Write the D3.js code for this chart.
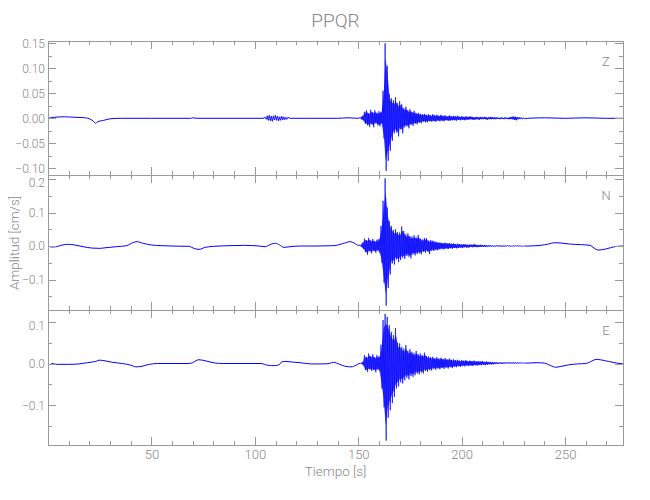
<!DOCTYPE html>
<html><head><meta charset="utf-8">
<script src="https://cdn.jsdelivr.net/npm/d3@7"></script>
<style>
body{margin:0;background:#fff;}
svg text{font-family:"Liberation Sans Narrow","Roboto",sans-serif;font-weight:300;fill:#888;}
</style></head><body>
<svg id="chart" width="650" height="500"></svg>
<script>
// ---------------- data ----------------
const stationName = "PPQR";
const componentNames = ["Z", "N", "E"];
const xLabel = "Tiempo [s]";
const yLabel = "Amplitud [cm/s]";

const timeRange = [0, 278];
const xMajorTicks = [50, 100, 150, 200, 250];
const xMinorTicks = [10,20,30,40,60,70,80,90,110,120,130,140,160,170,180,190,210,220,230,240,260,270];

const zRange = [-0.1134, 0.1546];
const nRange = [-0.191, 0.212];
const eRange = [-0.1954, 0.1283];
const zMajorTicks = [-0.10, -0.05, 0, 0.05, 0.10, 0.15];
const zMinorTicks = [-0.075, -0.025, 0.025, 0.075, 0.125];
const nMajorTicks = [-0.1, 0, 0.1, 0.2];
const nMinorTicks = [-0.15, -0.05, 0.05, 0.15];
const eMajorTicks = [-0.1, 0, 0.1];
const eMinorTicks = [-0.15, -0.05, 0.05];

// slow background trace (seconds, cm/s), outside the burst window
const zBaseTime = [0,3,8,13,18,20,22,23,24,27,30,35,50,69,70,72,90,104,
  105,105.5,106,106.5,107,107.5,108,108.5,109,109.5,110,110.5,111,111.5,112,112.5,113,113.5,114,114.5,115,115.5,116,117,
  125,140,145,150, 232,240,250,260,270,278];
const zBaseValue = [0,0.002,0.003,0.002,0.001,-0.001,-0.006,-0.010,-0.007,-0.004,-0.001,0,0,0,0.001,0,0,0,
  0.002,-0.002,0.005,-0.004,0.006,-0.005,0.004,-0.006,0.005,-0.003,0.006,-0.004,0.004,-0.005,0.003,-0.004,0.004,-0.003,0.003,-0.003,0.002,-0.002,0.002,0,
  0,0,0.001,0, 0,0.001,0,0.001,0,0];

const nBaseTime = [0,2,4,7,10,13,17,21,25,28,33,38,41,43,46,50,55,60,68,71,73,76,80,88,95,102,105,108,110,112,114,117,122,130,138,143,146,148,150,
  232,238,242,245,248,252,258,262,264,266,268,272,275,278];
const nBaseValue = [0,-0.003,-0.002,0.003,0.005,0.003,-0.002,-0.006,-0.007,-0.005,-0.002,0.001,0.010,0.013,0.008,0.003,0.001,0,-0.001,-0.008,-0.010,-0.004,-0.001,0.001,0.002,0,-0.002,0.006,0.008,0.003,-0.004,-0.002,0,0,0.001,0.008,0.013,0.009,0.002,
  0,0.002,0.006,0.010,0.009,0.006,0.004,0.002,-0.006,-0.012,-0.011,-0.005,-0.001,0];

const eBaseTime = [0,1,2,4,10,15,19,23,25,28,31,36,40,42.5,45,49,53,68,70,72,73,76.5,81,85,103,106,108,110,112,113,115,119,122,127,133,136,138,141,144,146.5,149,150,
  232,236,240,243,245.5,248,252,256,260,263,265,267,271,275,278];
const eBaseValue = [0.001,-0.003,0,-0.002,-0.002,-0.001,0.002,0.005,0.008,0.006,0.003,0,-0.004,-0.008,-0.007,-0.002,0,0,0.002,0.008,0.009,0.006,0.001,0,0,-0.004,-0.005,-0.005,-0.002,0.004,0.005,0.003,0.002,-0.001,-0.001,0,0.003,-0.002,-0.007,-0.008,-0.004,-0.001,
  0.001,0.002,0.001,-0.005,-0.009,-0.007,-0.003,-0.001,0,0.006,0.010,0.009,0.005,0.001,-0.001];

// burst window: samples every 0.5 s starting at 151 s (peak, trough per second)
const burstStart = 151;
const burstStep = 0.5;
const zBurst = [
  0.002,-0.002, 0.005,-0.004, 0.013,-0.011, 0.016,-0.014, 0.010,-0.017,
  0.017,-0.012, 0.012,-0.018, 0.016,-0.010, 0.011,-0.014, 0.014,-0.016,
  0.013,-0.011, 0.055,-0.040, 0.150,-0.105, 0.105,-0.085, 0.048,-0.065,
  0.040,-0.045, 0.036,-0.030, 0.042,-0.028, 0.030,-0.036, 0.034,-0.022,
  0.028,-0.030, 0.020,-0.018, 0.023,-0.016, 0.016,-0.020, 0.018,-0.013,
  0.013,-0.015, 0.015,-0.011, 0.010,-0.012, 0.011,-0.009, 0.009,-0.010,
  0.008,-0.007, 0.009,-0.008, 0.007,-0.008, 0.008,-0.006, 0.006,-0.007,
  0.008,-0.006, 0.006,-0.007, 0.007,-0.005, 0.005,-0.006, 0.007,-0.005,
  0.005,-0.006, 0.006,-0.004, 0.004,-0.005, 0.006,-0.005, 0.004,-0.004,
  0.005,-0.004, 0.004,-0.005, 0.005,-0.003, 0.003,-0.004, 0.004,-0.003,
  0.003,-0.004, 0.004,-0.003, 0.003,-0.003, 0.004,-0.002, 0.003,-0.003,
  0.002,-0.003, 0.003,-0.002, 0.002,-0.003, 0.003,-0.002, 0.002,-0.002,
  0.003,-0.002, 0.002,-0.003, 0.002,-0.002, 0.003,-0.002, 0.002,-0.002,
  0.002,-0.002, 0.002,-0.001, 0.001,-0.002, 0.002,-0.001, 0.001,-0.002,
  0.002,-0.001, 0.001,-0.002, 0.002,-0.002, 0.003,-0.002, 0.004,-0.003,
  0.003,-0.004, 0.002,-0.002, 0.002,-0.001, 0.001,-0.001, 0.001,-0.001
];
const nBurst = [
  0.003,-0.002, 0.010,-0.008, 0.022,-0.018, 0.018,-0.026, 0.024,-0.016,
  0.017,-0.022, 0.021,-0.015, 0.015,-0.020, 0.019,-0.014, 0.022,-0.021,
  0.060,-0.050, 0.135,-0.110, 0.202,-0.178, 0.115,-0.125, 0.075,-0.085,
  0.060,-0.052, 0.048,-0.055, 0.050,-0.040, 0.042,-0.048, 0.040,-0.042,
  0.058,-0.035, 0.045,-0.038, 0.035,-0.030, 0.038,-0.032, 0.030,-0.037,
  0.028,-0.025, 0.032,-0.028, 0.026,-0.024, 0.033,-0.022, 0.022,-0.025,
  0.020,-0.018, 0.024,-0.020, 0.023,-0.016, 0.016,-0.024, 0.018,-0.014,
  0.016,-0.015, 0.014,-0.012, 0.012,-0.013, 0.011,-0.010, 0.010,-0.009,
  0.009,-0.010, 0.010,-0.008, 0.008,-0.009, 0.009,-0.007, 0.007,-0.008,
  0.008,-0.006, 0.006,-0.007, 0.007,-0.006, 0.006,-0.005, 0.005,-0.006,
  0.006,-0.004, 0.005,-0.005, 0.004,-0.005, 0.005,-0.003, 0.004,-0.004,
  0.006,-0.003, 0.004,-0.004, 0.003,-0.003, 0.004,-0.003, 0.003,-0.002,
  0.003,-0.003, 0.002,-0.002, 0.002,-0.002, 0.002,-0.001, 0.001,-0.002,
  0.001,-0.001, 0.002,-0.001, 0.001,-0.001, 0.001,-0.002, 0.001,-0.001,
  0.001,-0.001, 0.001,0.000, 0.001,-0.001, 0.000,-0.001, 0.001,-0.001,
  0.001,0.000, 0.001,-0.001, 0.001,0.000, 0.000,-0.001, 0.000,0.000
];
const eBurst = [
  0.001,-0.001, 0.004,-0.004, 0.020,-0.016, 0.016,-0.020, 0.024,-0.014,
  0.018,-0.018, 0.022,-0.016, 0.015,-0.021, 0.020,-0.015, 0.017,-0.019,
  0.045,-0.060, 0.104,-0.105, 0.119,-0.185, 0.112,-0.130, 0.092,-0.112,
  0.076,-0.095, 0.068,-0.080, 0.085,-0.060, 0.050,-0.055, 0.048,-0.045,
  0.040,-0.048, 0.036,-0.040, 0.044,-0.034, 0.030,-0.038, 0.034,-0.030,
  0.028,-0.032, 0.025,-0.028, 0.030,-0.024, 0.022,-0.026, 0.024,-0.022,
  0.020,-0.024, 0.026,-0.018, 0.018,-0.020, 0.017,-0.016, 0.015,-0.017,
  0.016,-0.013, 0.013,-0.015, 0.015,-0.012, 0.012,-0.014, 0.014,-0.011,
  0.011,-0.013, 0.013,-0.010, 0.010,-0.012, 0.012,-0.009, 0.009,-0.011,
  0.010,-0.008, 0.008,-0.009, 0.009,-0.007, 0.007,-0.008, 0.008,-0.006,
  0.007,-0.007, 0.008,-0.005, 0.006,-0.006, 0.007,-0.005, 0.006,-0.006,
  0.007,-0.004, 0.005,-0.005, 0.006,-0.004, 0.005,-0.004, 0.006,-0.003,
  0.004,-0.004, 0.005,-0.003, 0.004,-0.002, 0.004,-0.002, 0.003,-0.002,
  0.003,-0.001, 0.003,-0.001, 0.002,0.000, 0.003,-0.001, 0.002,0.000,
  0.003,0.000, 0.002,0.001, 0.003,0.000, 0.002,0.001, 0.003,0.000,
  0.002,0.001, 0.002,0.000, 0.002,0.001, 0.002,0.001, 0.001,0.001
];

// ---------------- layout ----------------
const plotLeft = 48, plotRight = 623;
const panelEdges = [41, 175, 310, 445];
const axisColor = "#9a9a9a";
const traceColor = "#0000ff";

const panels = [
  {name: componentNames[0], range: zRange, major: zMajorTicks, minor: zMinorTicks, bt: zBaseTime, bv: zBaseValue, burst: zBurst, digits: 2},
  {name: componentNames[1], range: nRange, major: nMajorTicks, minor: nMinorTicks, bt: nBaseTime, bv: nBaseValue, burst: nBurst, digits: 1},
  {name: componentNames[2], range: eRange, major: eMajorTicks, minor: eMinorTicks, bt: eBaseTime, bv: eBaseValue, burst: eBurst, digits: 1}
];

const svg = d3.select("#chart");
const x = d3.scaleLinear().domain(timeRange).range([plotLeft, plotRight]);

function fmt(d, digits) {
  const s = Math.abs(d).toFixed(digits);
  return (d < -1e-9 ? "\u2212" : "") + s;
}

function styleAxis(g, fontSize) {
  g.attr("font-family", null).attr("font-size", null).attr("color", axisColor);
  g.select(".domain").remove();
  g.selectAll("line").attr("stroke", axisColor).attr("shape-rendering", "crispEdges");
  g.selectAll("text").style("font-size", fontSize + "px");
}

panels.forEach((p, i) => {
  const top = panelEdges[i], bottom = panelEdges[i + 1];
  const y = d3.scaleLinear().domain(p.range).range([bottom, top]);

  const burstEnd = burstStart + (p.burst.length - 1) * burstStep;
  const before = [], after = [];
  p.bt.forEach((t, k) => { if (t < burstStart) before.push([t, p.bv[k]]); });
  p.bt.forEach((t, k) => { if (t > burstEnd) after.push([t, p.bv[k]]); });
  const burstPts = p.burst.map((v, k) => [burstStart + k * burstStep, v]);
  // per-second envelope (peak, trough) for the dense core
  const band = d3.range(p.burst.length / 2).map(k => ({t: burstStart + k + 0.25, hi: p.burst[2 * k], lo: p.burst[2 * k + 1]}));

  const clipId = "clip" + i;
  svg.append("clipPath").attr("id", clipId)
    .append("rect").attr("x", plotLeft).attr("y", top).attr("width", plotRight - plotLeft).attr("height", bottom - top);

  const smooth = d3.line().x(d => x(d[0])).y(d => y(d[1])).curve(d3.curveMonotoneX);
  const sharp = d3.line().x(d => x(d[0])).y(d => y(d[1])).curve(d3.curveLinear);
  const core = d3.area().x(d => x(d.t)).y0(d => y(d.lo * 0.8)).y1(d => y(d.hi * 0.8)).curve(d3.curveLinear);

  const tg = svg.append("g").attr("clip-path", `url(#${clipId})`);
  tg.append("path").attr("d", core(band)).attr("fill", traceColor).attr("fill-opacity", 0.75).attr("stroke", "none");
  const lg = tg.append("g").attr("fill", "none").attr("stroke", traceColor).attr("stroke-linejoin", "round");
  lg.append("path").attr("d", smooth(before.concat([burstPts[0]]))).attr("stroke-width", 1);
  lg.append("path").attr("d", smooth([burstPts[burstPts.length - 1]].concat(after))).attr("stroke-width", 1);
  lg.append("path").attr("d", sharp(burstPts)).attr("stroke-width", 0.8).attr("stroke-opacity", 0.85);

  svg.append("rect")
    .attr("x", plotLeft).attr("y", top)
    .attr("width", plotRight - plotLeft).attr("height", bottom - top)
    .attr("fill", "none").attr("stroke", axisColor).attr("stroke-width", 1)
    .attr("shape-rendering", "crispEdges");

  const gl = svg.append("g").attr("transform", `translate(${plotLeft},0)`)
    .call(d3.axisLeft(y).tickValues(p.major).tickSize(-8).tickSizeOuter(0).tickPadding(3).tickFormat(d => fmt(d, p.digits)));
  styleAxis(gl, 12);
  if (i > 0) gl.selectAll(".tick text").filter(d => d === p.major[p.major.length - 1]).attr("dy", "0.62em");
  const glm = svg.append("g").attr("transform", `translate(${plotLeft},0)`)
    .call(d3.axisLeft(y).tickValues(p.minor).tickSize(-4).tickSizeOuter(0).tickFormat(""));
  styleAxis(glm, 12);

  const gr = svg.append("g").attr("transform", `translate(${plotRight},0)`)
    .call(d3.axisRight(y).tickValues(p.major).tickSize(-8).tickSizeOuter(0).tickFormat(""));
  styleAxis(gr, 12);
  const grm = svg.append("g").attr("transform", `translate(${plotRight},0)`)
    .call(d3.axisRight(y).tickValues(p.minor).tickSize(-4).tickSizeOuter(0).tickFormat(""));
  styleAxis(grm, 12);

  const gt = svg.append("g").attr("transform", `translate(0,${top})`)
    .call(d3.axisTop(x).tickValues(xMajorTicks).tickSize(-8).tickSizeOuter(0).tickFormat(""));
  styleAxis(gt, 12);
  const gtm = svg.append("g").attr("transform", `translate(0,${top})`)
    .call(d3.axisTop(x).tickValues(xMinorTicks).tickSize(-4).tickSizeOuter(0).tickFormat(""));
  styleAxis(gtm, 12);

  const last = i === panels.length - 1;
  const gb = svg.append("g").attr("transform", `translate(0,${bottom})`)
    .call(d3.axisBottom(x).tickValues(xMajorTicks).tickSize(-8).tickSizeOuter(0).tickPadding(5)
      .tickFormat(last ? d3.format("d") : ""));
  styleAxis(gb, 13);
  const gbm = svg.append("g").attr("transform", `translate(0,${bottom})`)
    .call(d3.axisBottom(x).tickValues(xMinorTicks).tickSize(-4).tickSizeOuter(0).tickFormat(""));
  styleAxis(gbm, 12);

  svg.append("text")
    .attr("x", 606).attr("y", top + 25)
    .attr("text-anchor", "middle")
    .style("font-size", "13px")
    .text(p.name);
});

svg.append("text")
  .attr("x", (plotLeft + plotRight) / 2).attr("y", 27)
  .attr("text-anchor", "middle")
  .style("font-size", "19px")
  .text(stationName);

svg.append("text")
  .attr("x", (plotLeft + plotRight) / 2).attr("y", 476)
  .attr("text-anchor", "middle")
  .style("font-size", "13.5px")
  .text(xLabel);

svg.append("text")
  .attr("transform", "translate(19,243) rotate(-90)")
  .attr("text-anchor", "middle")
  .style("font-size", "13.5px")
  .text(yLabel);
</script>
</body></html>
